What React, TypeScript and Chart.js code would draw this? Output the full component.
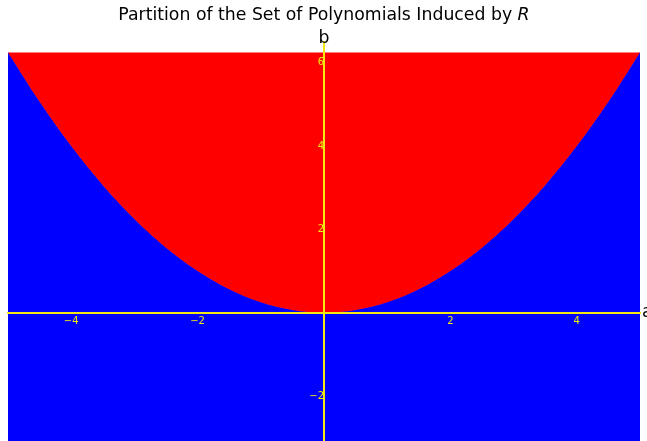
import { useEffect, useRef } from 'react';
import { Chart, registerables } from 'chart.js';

Chart.register(...registerables);

// Boundary curve b = a^2 / 4 sampled along a
const aValues = [-5, -4.5, -4, -3.5, -3, -2.5, -2, -1.5, -1, -0.5, 0, 0.5, 1, 1.5, 2, 2.5, 3, 3.5, 4, 4.5, 5];
const bBoundary = [6.25, 5.0625, 4, 3.0625, 2.25, 1.5625, 1, 0.5625, 0.25, 0.0625, 0, 0.0625, 0.25, 0.5625, 1, 1.5625, 2.25, 3.0625, 4, 5.0625, 6.25];

const xLimits = [-5, 5];
const yLimits = [-3.08, 6.5];
const shadedTop = 6.25;
const xTickValues = [-4, -2, 2, 4];
const yTickValues = [-2, 2, 4, 6];

const titleText = 'Partition of the Set of Polynomials Induced by ';
const titleSymbol = 'R';
const xAxisName = 'a';
const yAxisName = 'b';

const AXIS_COLOR = '#f2ea10';
const FONT = '"DejaVu Sans", sans-serif';
const LABEL_SIZE = 17.3;

const fmt = (v: number) => (v < 0 ? '\u2212' + Math.abs(v) : String(v));

const noPadding = (scale: any) => {
  scale.paddingTop = 0;
  scale.paddingBottom = 0;
  scale.paddingLeft = 0;
  scale.paddingRight = 0;
};

const annotations = {
  id: 'annotations',
  afterDraw(chart: any) {
    const { ctx, chartArea, scales } = chart;
    const x0 = scales.x.getPixelForValue(0);
    const y0 = scales.y.getPixelForValue(0);
    ctx.save();
    ctx.fillStyle = '#000';
    ctx.textBaseline = 'alphabetic';

    // title with italic symbol
    ctx.font = `${LABEL_SIZE}px ${FONT}`;
    const w1 = ctx.measureText(titleText).width;
    ctx.font = `italic ${LABEL_SIZE}px ${FONT}`;
    const w2 = ctx.measureText(titleSymbol).width;
    const cx = (chartArea.left + chartArea.right) / 2;
    const start = cx - (w1 + w2) / 2;
    ctx.textAlign = 'left';
    ctx.font = `${LABEL_SIZE}px ${FONT}`;
    ctx.fillText(titleText, start, 19.5);
    ctx.font = `italic ${LABEL_SIZE}px ${FONT}`;
    ctx.fillText(titleSymbol, start + w1, 19.5);

    // axis names at the ends of the axes
    ctx.font = `${LABEL_SIZE}px ${FONT}`;
    ctx.textAlign = 'center';
    ctx.fillText(yAxisName, x0, chartArea.top + 0.5);
    ctx.textAlign = 'left';
    ctx.fillText(xAxisName, chartArea.right + 2, y0 + 4.5);
    ctx.restore();
  },
};

export default function App() {
  const ref = useRef<HTMLCanvasElement>(null);

  useEffect(() => {
    const prevOverflow = document.documentElement.style.overflow;
    document.documentElement.style.overflow = 'hidden';

    const boundary = aValues.map((a, i) => ({ x: a, y: bBoundary[i] }));
    const tickFont = { family: FONT, size: 10 };

    const chart = new Chart(ref.current as HTMLCanvasElement, {
      type: 'line',
      data: {
        datasets: [
          {
            data: boundary,
            fill: { value: shadedTop },
            backgroundColor: '#ff0000',
            borderWidth: 0,
            pointRadius: 0,
            cubicInterpolationMode: 'monotone',
          },
          {
            data: boundary,
            fill: 'start',
            backgroundColor: '#0000ff',
            borderColor: '#0000ff',
            borderWidth: 1,
            pointRadius: 0,
            cubicInterpolationMode: 'monotone',
          },
        ],
      } as any,
      options: {
        responsive: false,
        animation: false,
        devicePixelRatio: 1,
        events: [],
        layout: { padding: { top: 42, left: 8, right: 7, bottom: 0 } },
        plugins: {
          legend: { display: false },
          tooltip: { enabled: false },
          title: { display: false },
        },
        scales: {
          x: {
            type: 'linear',
            min: xLimits[0],
            max: xLimits[1],
            position: { y: 0 },
            grid: { display: false, drawTicks: false, tickLength: 0, z: 1 },
            border: { display: true, color: AXIS_COLOR, width: 2, z: 1 },
            ticks: {
              z: 1,
              color: AXIS_COLOR,
              font: tickFont,
              padding: 3,
              maxRotation: 0,
              autoSkip: false,
              callback: (v: any) => fmt(Number(v)),
            },
            afterBuildTicks: (s: any) => {
              s.ticks = xTickValues.map((v) => ({ value: v }));
            },
            afterFit: noPadding,
          },
          y: {
            type: 'linear',
            min: yLimits[0],
            max: yLimits[1],
            position: { x: 0 },
            grid: { display: false, z: 1 },
            border: { display: true, color: AXIS_COLOR, width: 2, z: 1 },
            ticks: {
              z: 1,
              color: AXIS_COLOR,
              font: tickFont,
              padding: 3,
              autoSkip: false,
              callback: (v: any) => fmt(Number(v)),
            },
            afterBuildTicks: (s: any) => {
              s.ticks = yTickValues.map((v) => ({ value: v }));
            },
            afterFit: noPadding,
          },
        },
      } as any,
      plugins: [annotations],
    });

    return () => {
      chart.destroy();
      document.documentElement.style.overflow = prevOverflow;
    };
  }, []);

  return (
    <canvas
      ref={ref}
      width={647}
      height={441}
      style={{ display: 'block', position: 'absolute', left: 0, top: 0, width: 647, height: 441 }}
    />
  );
}
